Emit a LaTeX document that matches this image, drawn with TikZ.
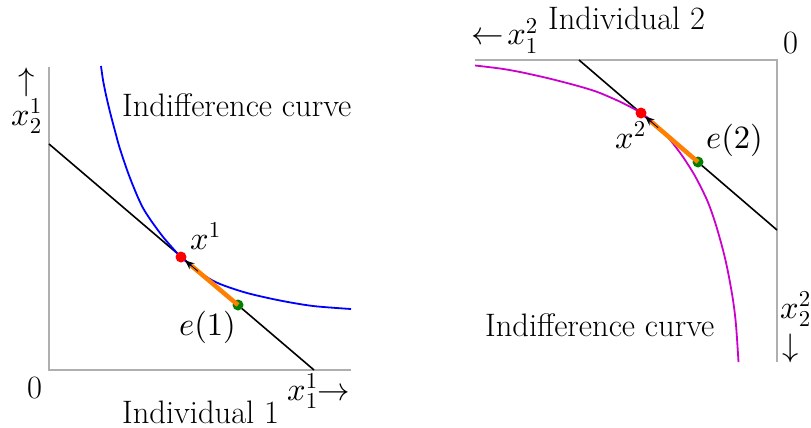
\documentclass[tikz,border=0pt]{standalone}
\DeclareFontShape{OML}{cmm}{m}{it}{<->cmmi10}{}
\DeclareFontShape{OMS}{cmsy}{m}{n}{<->cmsy10}{}
\DeclareFontShape{OT1}{cmr}{m}{n}{<->cmr10}{}
\usetikzlibrary{arrows.meta,calc}
\definecolor{axisgray}{RGB}{175,175,175}
\definecolor{curveblue}{RGB}{0,0,255}
\definecolor{curvemag}{RGB}{204,0,204}
\definecolor{movorange}{RGB}{255,128,0}
\definecolor{dotgreen}{RGB}{0,128,0}
\definecolor{dotred}{RGB}{255,0,0}
\begin{document}
\begin{tikzpicture}[x=1pt,y=-1pt,
  axisline/.style={draw=axisgray,line width=2pt},
  budget/.style={draw=black,line width=1.6pt},
  icurve/.style={line width=1.8pt},
  move/.style={draw=movorange,line width=4.5pt},
  movetip/.style={draw=black,line width=0.8pt,-{Stealth[length=9pt,width=8pt,inset=3.5pt]}},
  pt/.style={circle,inner sep=0pt,minimum size=11pt},
  lbl/.style={inner sep=0pt,anchor=base west,font=\fontsize{32.5}{38}\selectfont}]
\useasboundingbox (0,0) rectangle (811,428);
% ---------- Individual 1 ----------
\coordinate (o1) at (49,370);
\coordinate (y1top) at (49,67);
\coordinate (x1end) at (351,370);
\draw[axisline] (y1top) -- (o1) -- (x1end);
\coordinate (b1a) at (49,144);
\coordinate (b1b) at (314,370);
\draw[budget] (b1a) -- (b1b);
\draw[icurve,curveblue] plot[smooth,tension=0.5] coordinates {(101,66) (103,80) (106,95) (110,112) (115,131) (120,149) (130,178) (143,208) (160,233) (173,248.5) (181,257) (192,266.5) (205,276) (220,284) (247,293) (280,300.5) (313,306) (351,309)};
\node[pt,fill=dotgreen] (e1) at (238,305) {};
\node[pt,fill=dotred] (x1) at (181,257) {};
\draw[move] (e1.center) -- ($(x1.center)!0.18!(e1.center)$);
\draw[movetip] ($(x1.center)!0.3!(e1.center)$) -- (x1);
\node[lbl] (ic1) at (122,116) {Indifference curve};
\node[lbl] (up1) at (18,90) {$\uparrow$};
\node[lbl] (y1lab) at (11,125) {$x_2^1$};
\node[lbl] (x1lab) at (190,249) {$x^1$};
\node[lbl] (e1lab) at (179,335) {$e(1)$};
\node[lbl] (zero1) at (27,398) {0};
\node[lbl] (xax1) at (287,400) {$x_1^1{\rightarrow}$};
\node[lbl] (ind1) at (122,423) {Individual 1};
% ---------- Individual 2 ----------
\coordinate (o2) at (777,60);
\coordinate (x2end) at (475,60);
\coordinate (y2end) at (777,362);
\draw[axisline] (x2end) -- (o2) -- (y2end);
\coordinate (b2a) at (579,60);
\coordinate (b2b) at (777,230);
\draw[budget] (b2a) -- (b2b);
\draw[icurve,curvemag] plot[smooth,tension=0.5] coordinates {(475,65.5) (500,68.5) (520,72) (545,77.5) (565,82.5) (585,88) (600,93) (620,101.7) (633,108.3) (641,113) (652,121) (663,131.5) (673,143.5) (683,157) (695,176) (707,200) (715,222) (723,250) (728,272) (733,300) (736,325) (738.5,362)};
\node[pt,fill=dotgreen] (e2) at (698,162) {};
\node[pt,fill=dotred] (x2) at (641,113) {};
\draw[move] (e2.center) -- ($(x2.center)!0.18!(e2.center)$);
\draw[movetip] ($(x2.center)!0.3!(e2.center)$) -- (x2);
\node[lbl] (xax2) at (471,45) {${\leftarrow}\mkern2mu x_1^2$};
\node[lbl] (ind2) at (548,30) {Individual 2};
\node[lbl] (zero2) at (783,53) {0};
\node[lbl] (x2lab) at (615,148) {$x^2$};
\node[lbl] (e2lab) at (706,148) {$e(2)$};
\node[lbl] (ic2) at (485,336) {Indifference curve};
\node[lbl] (y2lab) at (780,318) {$x_2^2$};
\node[lbl] (down2) at (782,356) {$\downarrow$};
\end{tikzpicture}
\end{document}
